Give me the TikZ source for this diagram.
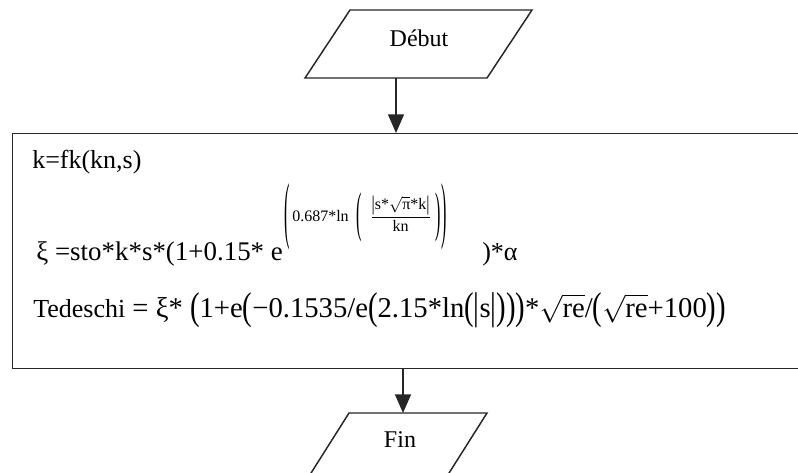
\documentclass[tikz,border=0pt]{standalone}
\usepackage{amsmath}
\usepackage{graphicx}
\usepackage{fontspec}
\setmainfont{Liberation Serif}
\usetikzlibrary{arrows.meta}

\newcommand\dl[2]{\vcenter{\hbox{\scalebox{1}[#1]{#2}}}}

\tikzset{
  io/.style={draw=black!85, line width=1.1pt, line join=miter},
  iotext/.style={font=\fontsize{18}{20}\selectfont},
  arr/.style={draw=black!85, line width=1.1pt, -{Triangle[length=14pt,width=12pt]}},
  frm/.style={anchor=base west, inner sep=0pt, font=\fontsize{19.5}{22}\selectfont},
  expo/.style={anchor=west, inner sep=0pt, font=\fontsize{12}{14}\selectfont},
}

\begin{document}
\begin{tikzpicture}[x=0.75pt,y=-0.75pt]
  \useasboundingbox (0,0) rectangle (798,472);
  \clip (0,0) rectangle (798,472);
  \fill[white] (0,0) rectangle (798,472);

  \draw[io] (350,10) -- (532,10) -- (487,78) -- (305,78) -- cycle;
  \node[iotext] (debut) at (419,38) {Début};
  \coordinate (debutout) at (396,78);

  \node[draw=black!85, line width=1.1pt, minimum width=600pt, minimum height=176pt,
    anchor=north west] (calc) at (12,133) {};

  \draw[io] (349,413) -- (487,413) -- (444,481) -- (306,481) -- cycle;
  \node[iotext] (fin) at (400,440) {Fin};
  \coordinate (finin) at (403,413);

  \node[frm] (kline) at (32,168) {k=fk(kn,s)};
  \node[frm, font=\fontsize{20.2}{22}\selectfont] (xiline) at (36,260) {ξ =sto*k*s*(1+0.15* e};
  \node[expo] (xiexp) at (284,217)
    {$\dl{4.6}{(}\,\text{0.687*ln}\hspace{6pt}\dl{3.4}{(}\hspace{6pt}\dfrac{\dl{1.3}{|}\text{s*}\sqrt{\text{π}}\text{*k}\dl{1.3}{|}}{\text{kn}}\hspace{3pt}\dl{3.4}{)}\hspace{1pt}\dl{4.6}{)}$};
  \node[frm] (xiend) at (482,260) {)*α};
  \node[frm] (tedeschi) at (33,317)
    {Tedeschi\fontsize{21.5}{24}\selectfont\ $\text{= ξ* }\dl{1.35}{(}\text{1+e}\dl{1.35}{(}\text{−0.1535/e}\dl{1.35}{(}\text{2.15*ln}\dl{1.35}{(}\dl{1.35}{|}\text{s}\dl{1.35}{|}\dl{1.35}{)}\dl{1.35}{)}\dl{1.35}{)}\text{*}\sqrt{\text{re}}\text{/}\dl{1.35}{(}\sqrt{\text{re}}\text{+100}\dl{1.35}{)}\dl{1.35}{)}$};

  \draw[arr] (debutout) -- (debutout |- calc.north);
  \draw[arr] (calc.south -| finin) -- (finin);
\end{tikzpicture}
\end{document}
